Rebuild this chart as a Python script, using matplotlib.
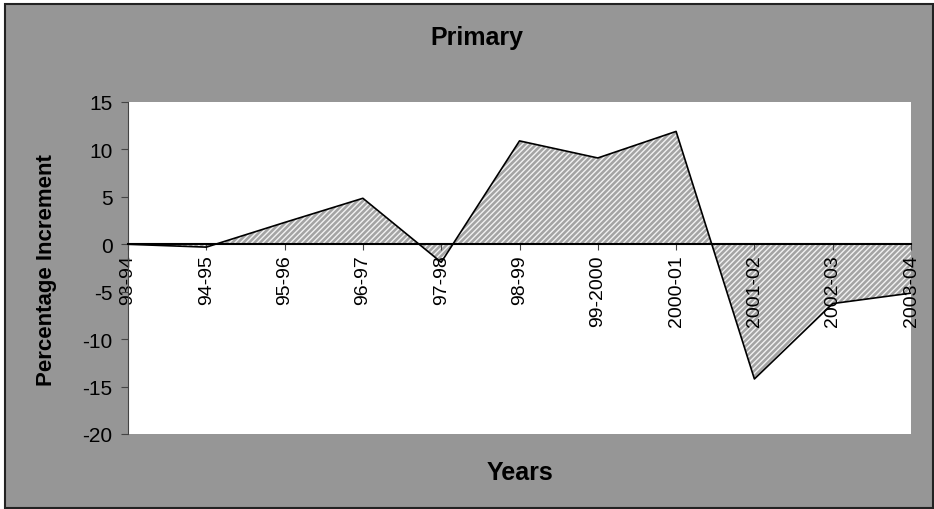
import matplotlib
matplotlib.use("Agg")
import matplotlib.pyplot as plt
from matplotlib.patches import Rectangle

years = ["93-94", "94-95", "95-96", "96-97", "97-98", "98-99",
         "99-2000", "2000-01", "2001-02", "2002-03", "2003-04"]
increment = [0.0, -0.3, 2.3, 4.85, -1.9, 10.9, 9.1, 11.9, -14.2, -6.25, -5.15]
y_ticks = [-20, -15, -10, -5, 0, 5, 10, 15]

plt.rcParams["font.family"] = ["Liberation Sans", "DejaVu Sans"]
plt.rcParams["axes.unicode_minus"] = False
plt.rcParams["hatch.linewidth"] = 1.0

fig = plt.figure(figsize=(9.34, 5.10), dpi=100, facecolor="white")

# outer grey chart area with black frame (drawn behind the axes)
fig.patches.append(Rectangle((5 / 934, 1 / 510), 928 / 934, 504 / 510,
                             transform=fig.transFigure, facecolor="#969696",
                             edgecolor="#222222", linewidth=1.5, zorder=-10))

ax = fig.add_axes([128 / 934, 1 - 435 / 510, 783 / 934, 332 / 510])
ax.set_facecolor("white")

x = list(range(len(years)))
ax.fill_between(x, increment, 0, facecolor="#a4a4a4", linewidth=0, zorder=1)
ax.fill_between(x, increment, 0, facecolor="none", edgecolor="#f2f2f2",
                hatch="//////", linewidth=0, zorder=1.1)
ax.plot(x, increment, color="black", linewidth=1.2, zorder=2)

ax.set_xlim(0, len(years) - 1)
ax.set_ylim(-20, 15)
ax.set_yticks(y_ticks)
ax.set_xticks(x)
ax.set_xticklabels(years)

ax.spines["top"].set_visible(False)
ax.spines["right"].set_visible(False)
ax.spines["bottom"].set_position(("data", 0))
ax.spines["bottom"].set_color("black")
ax.spines["bottom"].set_linewidth(1.5)
ax.spines["bottom"].set_zorder(3)
ax.spines["left"].set_color("#444444")

ax.tick_params(axis="x", direction="out", length=4, width=0.8, pad=3,
               labelsize=14, labelrotation=90, color="#444444")
ax.tick_params(axis="y", direction="out", length=5, width=0.8, pad=6,
               labelsize=15, color="#444444")
for lbl in ax.get_xticklabels():
    lbl.set_zorder(4)
    lbl.set_clip_on(False)

fig.text(477 / 934, 1 - 38 / 510, "Primary", ha="center", va="center",
         fontsize=18, fontweight="bold")
fig.text(520 / 934, 1 - 473 / 510, "Years", ha="center", va="center",
         fontsize=18, fontweight="bold")
fig.text(47 / 934, 1 - 270 / 510, "Percentage Increment", ha="center",
         va="center", rotation=90, fontsize=16, fontweight="bold")

fig.savefig("out.png", dpi=100, facecolor=fig.get_facecolor())
